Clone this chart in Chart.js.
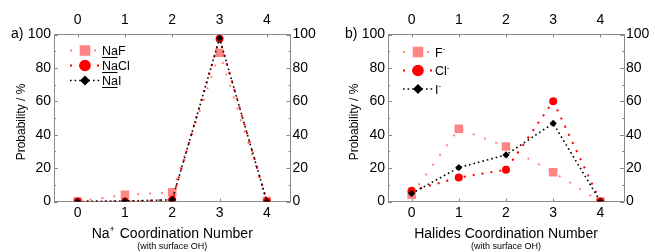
<!DOCTYPE html>
<html><head><meta charset="utf-8">
<script src="https://cdn.jsdelivr.net/npm/chart.js@4.4.1/dist/chart.umd.min.js"></script>
<style>
html,body{margin:0;padding:0;background:#fff;}
#wrap{position:relative;width:655px;height:252px;overflow:hidden;background:#fff;}
canvas{position:absolute;top:0;}
</style></head><body>
<div id="wrap">
<canvas id="ca" width="327" height="252" style="left:0px"></canvas>
<canvas id="cb" width="328" height="252" style="left:327px"></canvas>
</div>
<script>
// ---- data ----
const categories = ['0', '1', '2', '3', '4'];
const yTickValues = [0, 20, 40, 60, 80, 100];
const naF  = [0, 4, 5.5, 89, 0.3];
const naCl = [0, 0, 1, 97.5, 0];
const naI  = [0, 0.3, 1, 97.7, 0];
const fIon  = [4, 43.5, 33, 17.5, 0];
const clIon = [6.5, 14.3, 19, 60, 0];
const iIon  = [4.8, 20.3, 27.9, 46.8, 0];
const namesA = ['NaF', 'NaCl', 'NaI'];
const namesB = ['F', 'Cl', 'I'];
const yTitle = 'Probability / %';
const xTitleA = [{t: 'Na'}, {t: '+', sup: true}, {t: ' Coordination Number'}];
const xTitleB = [{t: 'Halides Coordination Number'}];
const xSubtitle = '(with surface OH)';

// ---- styles ----
const FONT = '"Liberation Sans", Arial, sans-serif';
const AXIS = '#8a8a8a';
const PINK = '#ff8585';
const RED = '#ff0000';
const BLACK = '#000000';
const seriesStyles = [
  {color: PINK, dash: [2, 10], width: 2, pointStyle: 'rect', radius: 6, legendRadius: 7.5},
  {color: RED, dash: [2, 7], width: 2, pointStyle: 'circle', radius: 4, legendRadius: 5.8},
  {color: BLACK, dash: [1.6, 3], width: 1.6, pointStyle: 'rectRot', radius: 3.6, legendRadius: 5}
];

function drawRuns(ctx, runs, x, y, size, align) {
  const supSize = Math.round(size * 0.65);
  let total = 0;
  const widths = runs.map(r => {
    ctx.font = (r.sup ? supSize : size) + 'px ' + FONT;
    const w = ctx.measureText(r.t).width + (r.sup ? 1 : 0);
    total += w;
    return w;
  });
  let cx = align === 'center' ? x - total / 2 : x;
  ctx.textAlign = 'left';
  ctx.textBaseline = 'alphabetic';
  runs.forEach((r, i) => {
    ctx.font = (r.sup ? supSize : size) + 'px ' + FONT;
    ctx.fillText(r.t, cx, r.sup ? y - size * 0.42 : y);
    if (r.ul) {
      ctx.save();
      ctx.strokeStyle = ctx.fillStyle;
      ctx.lineWidth = 1;
      ctx.beginPath();
      ctx.moveTo(cx, Math.round(y + 2) + 0.5);
      ctx.lineTo(cx + widths[i] - 0.5, Math.round(y + 2) + 0.5);
      ctx.stroke();
      ctx.restore();
    }
    cx += widths[i];
  });
}

function drawMarker(ctx, style, r, x, y) {
  ctx.fillStyle = style.color;
  ctx.beginPath();
  if (style.pointStyle === 'rect') {
    const s = r * Math.SQRT1_2;
    ctx.rect(x - s, y - s, 2 * s, 2 * s);
  } else if (style.pointStyle === 'circle') {
    ctx.arc(x, y, r, 0, Math.PI * 2);
  } else {
    ctx.moveTo(x - r, y); ctx.lineTo(x, y - r); ctx.lineTo(x + r, y); ctx.lineTo(x, y + r); ctx.closePath();
  }
  ctx.fill();
}

const decorPlugin = {
  id: 'decor',
  beforeDatasetsDraw(chart, args, o) {
    const ctx = chart.ctx, a = chart.chartArea, s = chart.scales;
    ctx.save();
    ctx.strokeStyle = AXIS;
    ctx.lineWidth = 1;
    ctx.beginPath();
    for (let v = 0; v <= 100; v += 10) {
      const major = v % 20 === 0;
      const len = major ? 4 : 2;
      const y = Math.round(s.y.getPixelForValue(v)) + 0.5;
      ctx.moveTo(a.left, y); ctx.lineTo(a.left + len, y);
      ctx.moveTo(a.right, y); ctx.lineTo(a.right - len, y);
    }
    categories.forEach((c, i) => {
      const x = Math.round(s.x.getPixelForValue(i)) + 0.5;
      ctx.moveTo(x, a.bottom); ctx.lineTo(x, a.bottom - 3);
      ctx.moveTo(x, a.top); ctx.lineTo(x, a.top + 3);
    });
    ctx.stroke();
    ctx.restore();
  },
  afterDraw(chart, args, o) {
    const ctx = chart.ctx, a = chart.chartArea;
    ctx.save();
    ctx.fillStyle = '#000';
    ctx.font = '14px ' + FONT;
    ctx.textAlign = 'left';
    ctx.textBaseline = 'middle';
    ctx.fillText(o.panel, o.panelX, a.top);
    ctx.save();
    ctx.translate(o.yTitleX, (a.top + a.bottom) / 2 + 4);
    ctx.rotate(-Math.PI / 2);
    ctx.font = '12px ' + FONT;
    ctx.textAlign = 'center';
    ctx.textBaseline = 'middle';
    ctx.fillText(yTitle, 0, 0);
    ctx.restore();
    const cx = (a.left + a.right) / 2;
    ctx.fillStyle = '#000';
    drawRuns(ctx, o.xTitle, cx, 237.5, 14, 'center');
    ctx.font = '9px ' + FONT;
    ctx.textAlign = 'center';
    ctx.textBaseline = 'middle';
    ctx.fillText(xSubtitle, cx, 246.5);
    chart.data.datasets.forEach((ds, i) => {
      const st = seriesStyles[i];
      const y = o.legY + i * o.legDy;
      ctx.save();
      ctx.strokeStyle = st.color;
      ctx.lineWidth = st.width;
      ctx.setLineDash(st.dash);
      ctx.beginPath();
      ctx.moveTo(o.legX - 15, y); ctx.lineTo(o.legX + 15, y);
      ctx.stroke();
      ctx.restore();
      drawMarker(ctx, st, st.legendRadius, o.legX, y);
      ctx.fillStyle = '#000';
      drawRuns(ctx, o.legRuns(ds.label), o.legTextX, y + 4.5, 12.5, 'left');
    });
    ctx.restore();
  }
};

function makeDatasets(names, series) {
  return series.map((vals, i) => {
    const st = seriesStyles[i];
    return {
      label: names[i],
      data: vals,
      borderColor: st.color,
      backgroundColor: st.color,
      borderWidth: st.width,
      borderDash: st.dash,
      pointStyle: st.pointStyle,
      pointRadius: st.radius,
      pointBackgroundColor: st.color,
      pointBorderColor: st.color,
      pointBorderWidth: 0,
      tension: 0,
      order: 3 - i,
      fill: false
    };
  });
}

function makeChart(id, names, series, dims, extra) {
  const fixW = w => s => { s.width = w; };
  const fixH = h => s => { s.height = h; };
  const tickFont = {family: FONT, size: 14};
  const yCommon = {
    type: 'linear', min: 0, max: 100,
    afterBuildTicks: s => { s.ticks = yTickValues.map(v => ({value: v})); },
    grid: {display: false, drawTicks: false},
    border: {display: true, color: AXIS, width: 1},
    ticks: {color: '#000', font: tickFont, padding: 3}
  };
  const xCommon = {
    type: 'category', labels: categories, offset: true,
    grid: {display: false, drawTicks: false, offset: true},
    border: {display: true, color: AXIS, width: 1},
    ticks: {color: '#000', font: tickFont, maxRotation: 0, autoSkip: false}
  };
  return new Chart(document.getElementById(id), {
    type: 'line',
    data: {labels: categories, datasets: makeDatasets(names, series)},
    options: {
      responsive: false, animation: false, devicePixelRatio: 1,
      layout: {padding: 0},
      plugins: {legend: {display: false}, tooltip: {enabled: false}, decor: extra},
      scales: {
        x: Object.assign({}, xCommon, {position: 'bottom', afterFit: fixH(dims.bottom), ticks: Object.assign({}, xCommon.ticks, {padding: 3})}),
        x2: Object.assign({}, xCommon, {position: 'top', afterFit: fixH(dims.top), ticks: Object.assign({}, xCommon.ticks, {padding: 6})}),
        y: Object.assign({}, yCommon, {position: 'left', afterFit: fixW(dims.left)}),
        y2: Object.assign({}, yCommon, {position: 'right', afterFit: fixW(dims.right), ticks: Object.assign({}, yCommon.ticks, {padding: 2})})
      }
    },
    plugins: [decorPlugin]
  });
}

makeChart('ca', namesA, [naF, naCl, naI], {left: 54, right: 36.5, top: 34.5, bottom: 50.5}, {
  panel: 'a)', panelX: 11, yTitleX: 22, xTitle: xTitleA,
  legX: 85, legY: 50.5, legDy: 15, legTextX: 102,
  legRuns: name => [{t: 'Na', ul: true}, {t: name.slice(2)}]
});
makeChart('cb', namesB, [fIon, clIon, iIon], {left: 61, right: 31, top: 34.5, bottom: 50.5}, {
  panel: 'b)', panelX: 18, yTitleX: 28, xTitle: xTitleB,
  legX: 91, legY: 52, legDy: 18.5, legTextX: 108,
  legRuns: name => [{t: name}, {t: '-', sup: true}]
});
</script>
</body></html>
